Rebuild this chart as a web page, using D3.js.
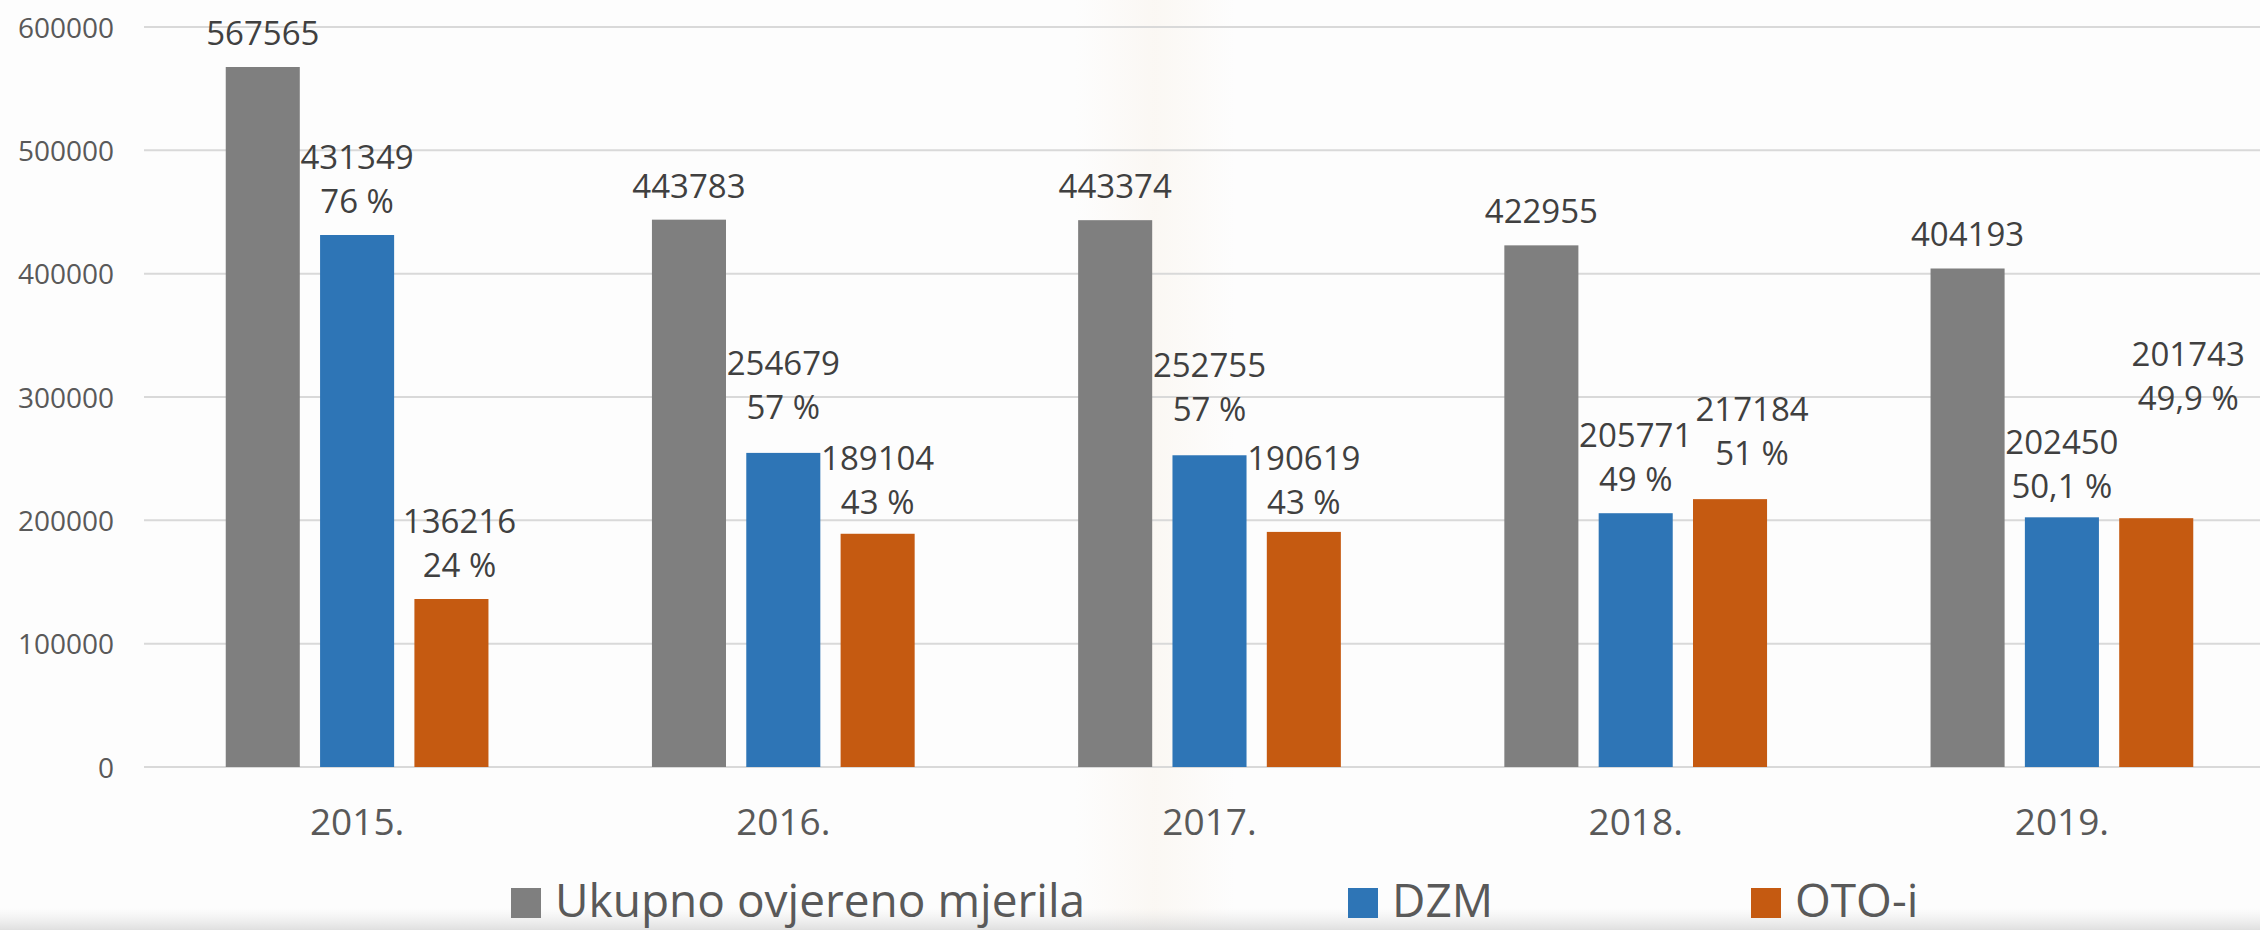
<!DOCTYPE html>
<html>
<head>
<meta charset="utf-8">
<script src="https://cdn.jsdelivr.net/npm/d3@7"></script>
<style>
  html, body { margin: 0; padding: 0; background: #fdfdfd; }
  svg { display: block; font-family: "Open Sans", sans-serif; }
</style>
</head>
<body>
<div id="chart"></div>
<script>
const YEARS = ["2015.", "2016.", "2017.", "2018.", "2019."];
const SERIES = ["Ukupno ovjereno mjerila", "DZM", "OTO-i"];
const UKUPNO = [567565, 443783, 443374, 422955, 404193];
const DZM = [431349, 254679, 252755, 205771, 202450];
const OTO = [136216, 189104, 190619, 217184, 201743];
const DZM_PCT = ["76 %", "57 %", "57 %", "49 %", "50,1 %"];
const OTO_PCT = ["24 %", "43 %", "43 %", "51 %", "49,9 %"];
const Y_TICKS = [0, 100000, 200000, 300000, 400000, 500000, 600000];

const COLORS = ["#7f7f7f", "#2e75b6", "#c55a11"];

// label nudges (px) where the original labels were moved by hand
const NUDGE = {
  "OTO-i|2015.": [8, 0],
  "DZM|2016.": [0, -12],
  "DZM|2017.": [0, -12],
  "OTO-i|2016.": [0, 2],
  "OTO-i|2017.": [0, 4],
  "DZM|2019.": [0, 3],
  "OTO-i|2018.": [22, -12],
  "OTO-i|2019.": [32, -86]
};

const W = 2260, H = 930;
const plotLeft = 144, plotRight = 2275, plotTop = 27, zeroY = 767;

const rows = YEARS.map((year, i) => ({
  year,
  bars: [
    { key: SERIES[0], value: UKUPNO[i], lines: [String(UKUPNO[i])] },
    { key: SERIES[1], value: DZM[i], lines: [String(DZM[i]), DZM_PCT[i]] },
    { key: SERIES[2], value: OTO[i], lines: [String(OTO[i]), OTO_PCT[i]] }
  ]
}));

const svg = d3.select("#chart").append("svg")
  .attr("width", W)
  .attr("height", H);

// faint background (washed-out photo behind the chart)
const defs = svg.append("defs");
const band = defs.append("linearGradient").attr("id", "band");
band.append("stop").attr("offset", "0%").attr("stop-color", "#f8f1e8").attr("stop-opacity", 0);
band.append("stop").attr("offset", "50%").attr("stop-color", "#f8f1e8").attr("stop-opacity", 0.45);
band.append("stop").attr("offset", "100%").attr("stop-color", "#f8f1e8").attr("stop-opacity", 0);
const foot = defs.append("linearGradient").attr("id", "foot").attr("x1", 0).attr("x2", 0).attr("y1", 0).attr("y2", 1);
foot.append("stop").attr("offset", "0%").attr("stop-color", "#e6e6e6").attr("stop-opacity", 0);
foot.append("stop").attr("offset", "100%").attr("stop-color", "#d8d8d8").attr("stop-opacity", 0.8);

svg.append("rect").attr("width", W).attr("height", H).attr("fill", "#fdfdfd");
svg.append("rect").attr("x", 1075).attr("width", 160).attr("height", H).attr("fill", "url(#band)");
svg.append("rect").attr("y", 908).attr("width", W).attr("height", 22).attr("fill", "url(#foot)");

const x0 = d3.scaleBand()
  .domain(YEARS)
  .range([plotLeft, plotRight])
  .paddingInner(0.336)
  .paddingOuter(0.168);

const x1 = d3.scaleBand()
  .domain(SERIES)
  .range([0, x0.bandwidth()])
  .paddingInner(0.215)
  .paddingOuter(0.1075);

const y = d3.scaleLinear()
  .domain([0, 600000])
  .range([zeroY, plotTop]);

const color = d3.scaleOrdinal().domain(SERIES).range(COLORS);

// grid
svg.append("g")
  .selectAll("line")
  .data(Y_TICKS)
  .join("line")
  .attr("x1", plotLeft)
  .attr("x2", W)
  .attr("y1", d => y(d))
  .attr("y2", d => y(d))
  .attr("stroke", "#d9d9d9")
  .attr("stroke-width", 2);

// y axis labels
const yAxis = svg.append("g")
  .attr("transform", `translate(${plotLeft},0)`)
  .call(d3.axisLeft(y).tickValues(Y_TICKS).tickSize(0).tickPadding(30).tickFormat(d => String(d)));
yAxis.select(".domain").remove();
yAxis.selectAll("text")
  .attr("font-family", "Open Sans, sans-serif")
  .attr("font-size", "28px")
  .attr("fill", "#595959")
  .attr("dy", "0.357em");

// x axis labels
const xAxis = svg.append("g")
  .attr("transform", `translate(0,${zeroY})`)
  .call(d3.axisBottom(x0).tickSize(0).tickPadding(68));
xAxis.select(".domain").remove();
xAxis.selectAll("text")
  .attr("font-family", "Open Sans, sans-serif")
  .attr("font-size", "37px")
  .attr("fill", "#595959")
  .attr("dy", "0");

// bars
const groups = svg.append("g")
  .selectAll("g")
  .data(rows)
  .join("g")
  .attr("transform", d => `translate(${x0(d.year)},0)`);

groups.selectAll("rect")
  .data(d => d.bars)
  .join("rect")
  .attr("x", d => x1(d.key))
  .attr("width", x1.bandwidth())
  .attr("y", d => y(d.value))
  .attr("height", d => zeroY - y(d.value))
  .attr("fill", d => color(d.key));

// data labels
const lineH = 44, gap = 22;
groups.each(function (row) {
  const g = d3.select(this);
  row.bars.forEach(b => {
    const n = NUDGE[b.key + "|" + row.year] || [0, 0];
    const cx = x1(b.key) + x1.bandwidth() / 2 + n[0];
    const baseLast = y(b.value) - gap + n[1];
    const t = g.append("text")
      .attr("text-anchor", "middle")
      .attr("font-size", "33px")
      .attr("fill", "#404040");
    b.lines.forEach((line, i) => {
      t.append("tspan")
        .attr("x", cx)
        .attr("y", baseLast - (b.lines.length - 1 - i) * lineH)
        .text(line);
    });
  });
});

// legend
const LEGEND_X = [511, 1348, 1751];
const legend = svg.append("g")
  .selectAll("g")
  .data(SERIES)
  .join("g")
  .attr("transform", (d, i) => `translate(${LEGEND_X[i]},888)`);

legend.append("rect")
  .attr("width", 30)
  .attr("height", 30)
  .attr("fill", d => color(d));

legend.append("text")
  .attr("x", 44)
  .attr("y", 29)
  .attr("font-size", "46px")
  .attr("fill", "#595959")
  .text(d => d);
</script>
</body>
</html>
